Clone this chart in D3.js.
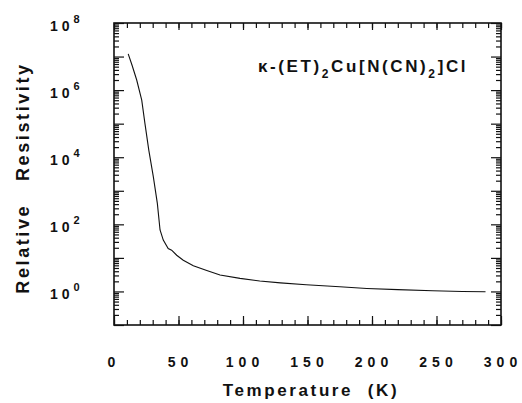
<!DOCTYPE html>
<html>
<head>
<meta charset="utf-8">
<script src="https://cdn.jsdelivr.net/npm/d3@7"></script>
<style>
  body { margin: 0; background: #fff; }
  svg text { font-family: "Liberation Sans", Arial, sans-serif; font-weight: bold; fill: #111; }
</style>
</head>
<body>
<div id="chart"></div>
<script>
// curve: temperature (K) and relative resistivity
var temperature = [11, 14, 17.6, 21.5, 24, 27, 30.5, 33.6, 35.7, 38.2, 42, 44.7, 48.6, 53.7,
                   61.5, 71.9, 82.2, 97.7, 113, 129, 149, 175, 196, 220, 247, 270, 288];
var resistivity = [1.2e7, 5.5e6, 2.0e6, 5.0e5, 1.0e5, 1.6e4, 2.6e3, 420, 68, 34, 19, 17, 12, 8.5,
                   5.8, 4.2, 3.1, 2.45, 2.05, 1.8, 1.58, 1.38, 1.23, 1.13, 1.05, 1.0, 0.98];

var xMajor = [0, 50, 100, 150, 200, 250, 300];
var xMinor = d3.range(0, 301, 10);
var yLabelExp = [0, 2, 4, 6, 8];

var width = 522, height = 403;
// note: "top" is a read-only window global, so use a prefix
var plotL = 114, plotR = 501, plotT = 23, plotB = 325;

var svg = d3.select("#chart").append("svg")
    .attr("width", width)
    .attr("height", height);

var x = d3.scaleLinear().domain([0, 300]).range([plotL, plotR]);
var y = d3.scaleLog().domain([0.1, 1e8]).range([plotB, plotT]);

// log ticks: decades long, 2..9 short
var yMajor = d3.range(-1, 9).map(function(e) { return Math.pow(10, e); });
var yMinor = [];
d3.range(-1, 8).forEach(function(e) {
    for (var k = 2; k < 10; k++) yMinor.push(k * Math.pow(10, e));
});

function tickAxis(axis, pos, values, size) {
    var g = svg.append("g")
        .attr("transform", pos)
        .call(axis.tickValues(values).tickSize(size).tickSizeOuter(0).tickFormat(""));
    g.select(".domain").remove();
    g.selectAll("line").attr("stroke", "#111").attr("stroke-width", 1.2);
    return g;
}

tickAxis(d3.axisBottom(x), "translate(0," + plotB + ")", xMinor, -5);
tickAxis(d3.axisBottom(x), "translate(0," + plotB + ")", xMajor, -9);
tickAxis(d3.axisTop(x), "translate(0," + plotT + ")", xMinor, -5);
tickAxis(d3.axisTop(x), "translate(0," + plotT + ")", xMajor, -7);
tickAxis(d3.axisLeft(y), "translate(" + plotL + ",0)", yMinor, -5);
tickAxis(d3.axisLeft(y), "translate(" + plotL + ",0)", yMajor, -10);
tickAxis(d3.axisRight(y), "translate(" + plotR + ",0)", yMinor, -5);
tickAxis(d3.axisRight(y), "translate(" + plotR + ",0)", yMajor, -10);

// frame
svg.append("rect")
    .attr("x", plotL)
    .attr("y", plotT)
    .attr("width", plotR - plotL)
    .attr("height", plotB - plotT)
    .attr("fill", "none")
    .attr("stroke", "#111")
    .attr("stroke-width", 1.6);

// curve
var pts = temperature.map(function(t, i) { return [t, resistivity[i]]; });
svg.append("path")
    .datum(pts)
    .attr("fill", "none")
    .attr("stroke", "#111")
    .attr("stroke-width", 1.1)
    .attr("d", d3.line()
        .x(function(d) { return x(d[0]); })
        .y(function(d) { return y(d[1]); }));

// x tick labels
svg.selectAll(".xlab")
    .data(xMajor)
    .enter().append("text")
    .attr("class", "xlab")
    .attr("x", function(d) { return x(d) + (d === 0 ? 0 : 2); })
    .attr("y", 367)
    .attr("text-anchor", "middle")
    .attr("font-size", "14px")
    .attr("letter-spacing", "5px")
    .text(function(d) { return d.toString(); });

// y tick labels 1 0^n
var yl = svg.selectAll(".ylab")
    .data(yLabelExp)
    .enter().append("text")
    .attr("class", "ylab")
    .attr("x", 50)
    .attr("y", function(d) { return y(Math.pow(10, d)) + 8; })
    .attr("font-size", "14px");
yl.append("tspan").attr("letter-spacing", "4px").text("10");
yl.append("tspan")
    .attr("dy", -8)
    .attr("font-size", "11px")
    .text(function(d) { return d; });

// compound label
var t = svg.append("text")
    .attr("x", 258)
    .attr("y", 72)
    .attr("font-size", "17px")
    .attr("letter-spacing", "2.6px");
t.append("tspan").text("κ-(ET)");
t.append("tspan").attr("dy", 6).attr("font-size", "12px").text("2");
t.append("tspan").attr("dy", -6).text("Cu[N(CN)");
t.append("tspan").attr("dy", 6).attr("font-size", "12px").text("2");
t.append("tspan").attr("dy", -6).text("]Cl");

// axis titles
svg.append("text")
    .attr("x", 311)
    .attr("y", 396)
    .attr("text-anchor", "middle")
    .attr("font-size", "17px")
    .attr("letter-spacing", "2.6px")
    .attr("xml:space", "preserve")
    .text("Temperature  (K)");

svg.append("text")
    .attr("transform", "translate(29,178) rotate(-90)")
    .attr("text-anchor", "middle")
    .attr("font-size", "18px")
    .attr("letter-spacing", "2.6px")
    .attr("xml:space", "preserve")
    .text("Relative   Resistivity");
</script>
</body>
</html>
